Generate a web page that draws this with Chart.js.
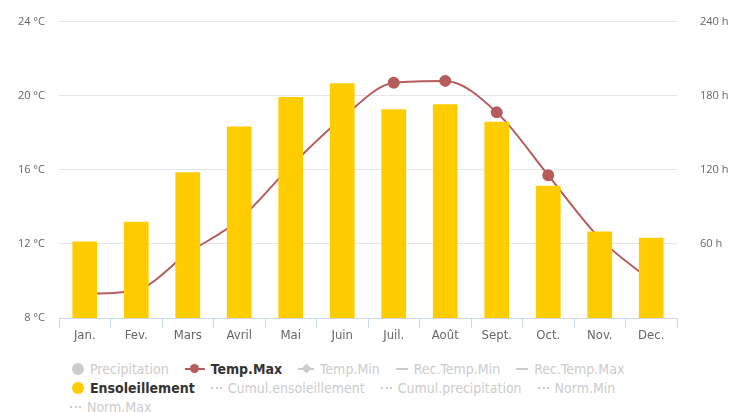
<!DOCTYPE html>
<html>
<head>
<meta charset="utf-8">
<script src="https://cdn.jsdelivr.net/npm/chart.js@4/dist/chart.umd.min.js"></script>
<style>
  body { margin: 0; background: #fff; width: 738px; height: 412px; overflow: hidden; }
  #wrap { position: relative; width: 738px; height: 350px; }
  #legend { position: absolute; left: 70px; top: 359px; width: 660px; font-family: "Liberation Sans Narrow", "DejaVu Sans Condensed", "Open Sans", sans-serif; font-size: 14px; color: #cccccc; }
  .row { display: flex; align-items: center; height: 19px; white-space: nowrap; }
  .item { display: flex; align-items: center; margin-right: 16px; }
  .item.on { color: #333; font-weight: bold; }
  .sym { position: relative; display: inline-block; width: 16px; height: 12px; margin-right: 6px; }
  .dot { width: 12px; height: 12px; border-radius: 50%; background: #ccc; }
  .ln::before { content: ""; position: absolute; left: 0; right: 0; top: 5px; border-top: 2px solid #ccc; }
  .dash::before { content: ""; position: absolute; left: 0; right: 0; top: 5px; border-top: 2px dotted #ccc; }
  .mk { position: absolute; left: 50%; top: 50%; width: 9px; height: 9px; margin: -4.5px 0 0 -4.5px; border-radius: 50%; }
  .dia { position: absolute; left: 50%; top: 50%; width: 7px; height: 7px; margin: -3.5px 0 0 -3.5px; transform: rotate(45deg); background: #ccc; }
  .red::before { border-top-color: #b65c5c; }
</style>
</head>
<body>
<div id="wrap"><canvas id="climateChart" width="738" height="350"></canvas></div>
<div id="legend">
  <div class="row">
    <span class="item"><span class="sym dot" style="margin-left:2px"></span>Precipitation</span>
    <span class="item on"><span class="sym ln red" style="width:20px"><i class="mk" style="background:#b65c5c"></i></span>Temp.Max</span>
    <span class="item"><span class="sym ln"><i class="dia"></i></span>Temp.Min</span>
    <span class="item"><span class="sym ln" style="width:12px"></span>Rec.Temp.Min</span>
    <span class="item"><span class="sym ln" style="width:12px"></span>Rec.Temp.Max</span>
  </div>
  <div class="row">
    <span class="item on"><span class="sym dot" style="background:#ffcc00;margin-left:2px"></span>Ensoleillement</span>
    <span class="item"><span class="sym dash" style="width:11px"></span>Cumul.ensoleillement</span>
    <span class="item"><span class="sym dash" style="width:11px"></span>Cumul.precipitation</span>
    <span class="item"><span class="sym dash" style="width:11px"></span>Norm.Min</span>
  </div>
  <div class="row">
    <span class="item"><span class="sym dash" style="width:11px"></span>Norm.Max</span>
  </div>
</div>
<script>
// Months (French labels as shown)
const months = ["Jan.", "Fev.", "Mars", "Avril", "Mai", "Juin", "Juil.", "Août", "Sept.", "Oct.", "Nov.", "Dec."];

// Max temperature, °C (left axis)
const tempMax = [9.3, 9.5, 11.5, 13.3, 16.2, 18.8, 20.7, 20.8, 19.1, 15.7, 12.3, 10.0];

// Sunshine hours (right axis)
const sunshine = [62, 78, 118, 155, 179, 190, 169, 173, 159, 107, 70, 65];

// Axis ticks
const tempTicks = [8, 12, 16, 20, 24];
const sunTicks = [0, 60, 120, 180, 240];

const tickFont = { family: "Open Sans, sans-serif", size: 11 };
const monthFont = { family: "Liberation Sans Narrow, DejaVu Sans Condensed, sans-serif", size: 13 };

const ctx = document.getElementById("climateChart").getContext("2d");

new Chart(ctx, {
    data: {
        labels: months,
        datasets: [
            {
                type: "bar",
                label: "Ensoleillement",
                data: sunshine,
                yAxisID: "ySun",
                backgroundColor: "#ffcc00",
                categoryPercentage: 1,
                barPercentage: 0.48,
                order: 1,
            },
            {
                type: "line",
                label: "Temp.Max",
                data: tempMax,
                yAxisID: "yTemp",
                borderColor: "#b65c5c",
                backgroundColor: "#b65c5c",
                borderWidth: 2,
                pointRadius: 5,
                pointHoverRadius: 5,
                cubicInterpolationMode: "monotone",
                order: 2,
            },
        ],
    },
    options: {
        responsive: false,
        animation: false,
        layout: { padding: { top: 18, left: 0, right: 0, bottom: 0 } },
        plugins: {
            legend: { display: false },
            tooltip: { enabled: false },
        },
        scales: {
            x: {
                grid: { offset: true, drawOnChartArea: false, tickLength: 10, color: "#ccd6eb" },
                border: { color: "#ccd6eb" },
                ticks: { color: "#666", font: monthFont, padding: 0 },
                afterFit: (scale) => { scale.height = 32; },
            },
            yTemp: {
                position: "left",
                min: tempTicks[0],
                max: tempTicks[tempTicks.length - 1],
                afterBuildTicks: (scale) => { scale.ticks = tempTicks.map(v => ({ value: v })); },
                grid: { color: "#e6e6e6", drawTicks: false },
                border: { display: false },
                ticks: { color: "#666", font: tickFont, padding: 14, callback: (v) => v + " °C" },
                afterFit: (scale) => { scale.width = 59; },
            },
            ySun: {
                position: "right",
                min: sunTicks[0],
                max: sunTicks[sunTicks.length - 1],
                afterBuildTicks: (scale) => { scale.ticks = sunTicks.map(v => ({ value: v })); },
                grid: { display: false },
                border: { display: false },
                ticks: { color: "#666", font: tickFont, padding: 15, callback: (v) => v === 0 ? "" : v + " h" },
                afterFit: (scale) => { scale.width = 61; },
            },
        },
    },
});
</script>
</body>
</html>
